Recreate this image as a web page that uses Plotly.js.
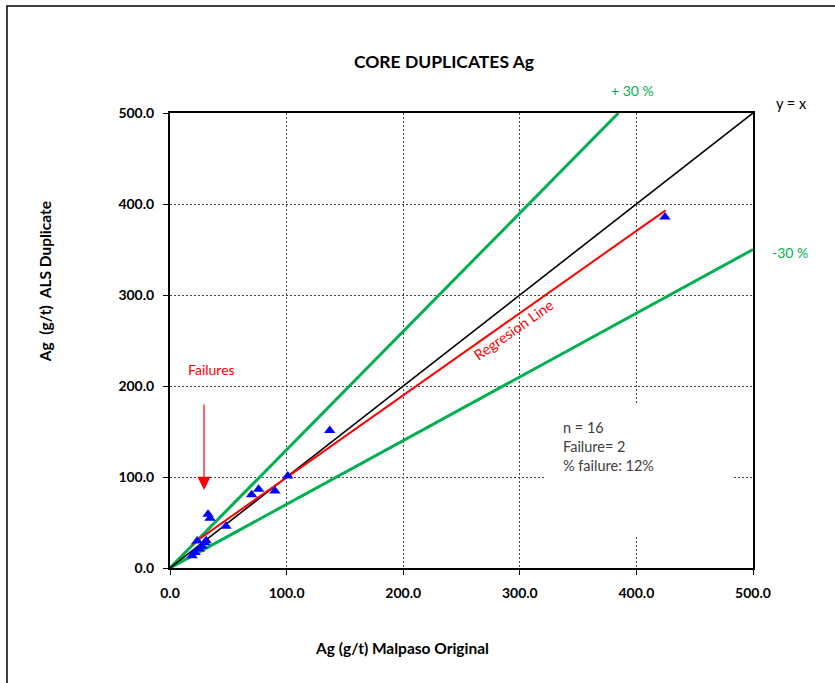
<!DOCTYPE html>
<html>
<head>
<meta charset="utf-8">
<script src="https://cdn.plot.ly/plotly-3.0.1.min.js"></script>
<style>
  html, body { margin: 0; padding: 0; background: #fff; }
  #chart { width: 835px; height: 683px; }
</style>
</head>
<body>
<div id="chart"></div>
<script>
// Ag core duplicate pairs: Malpaso original vs ALS duplicate (g/t)
const originalAg  = [137, 101, 70, 76, 90, 32.6, 34.3, 48, 23.4, 29.7, 25.2, 18.9, 424.5, 21.5, 27.5, 31];
const duplicateAg = [151, 101, 80.5, 86.5, 84.6, 59, 54.6, 46, 29.7, 27.8, 20.9, 13.5, 385.7, 17, 24, 30];

// Reference lines (end points)
const identityX = [0, 500];
const identityY = [0, 500];
const plus30X   = [0, 384.6];
const plus30Y   = [0, 500];
const minus30X  = [0, 500];
const minus30Y  = [0, 350];
const regressX  = [18.6, 425];
const regressY  = [26, 393];

// Axis ticks
const tickVals  = [0, 100, 200, 300, 400, 500];
const tickText  = ["0.0", "100.0", "200.0", "300.0", "400.0", "500.0"];

// Summary stats
const statsLines = ["n = 16", "Failure= 2", "% failure: 12%"];

const FONT = "Lato, 'Open Sans', 'DejaVu Sans', sans-serif";
const GREEN = "#00B050";

const traces = [
  { x: plus30X, y: plus30Y, mode: "lines", line: { color: GREEN, width: 3 }, hoverinfo: "skip" },
  { x: minus30X, y: minus30Y, mode: "lines", line: { color: GREEN, width: 3 }, hoverinfo: "skip" },
  { x: identityX, y: identityY, mode: "lines", line: { color: "#000000", width: 1.6 }, hoverinfo: "skip" },
  { x: regressX, y: regressY, mode: "lines", line: { color: "#FF0000", width: 2 }, hoverinfo: "skip" },
  { x: originalAg, y: duplicateAg, mode: "markers", type: "scatter",
    marker: { symbol: "triangle-up", color: "#0000FF", size: 10 } }
];

const axisCommon = {
  range: [0, 500],
  tickvals: tickVals,
  ticktext: tickText,
  tickfont: { family: FONT, size: 14, color: "#000", weight: 700 },
  showline: true,
  linecolor: "#000",
  linewidth: 2,
  mirror: true,
  ticks: "outside",
  ticklen: 5,
  tickcolor: "#000",
  tickwidth: 1,
  showgrid: true,
  gridcolor: "#444",
  gridwidth: 1,
  griddash: "2px,2px",
  zeroline: false,
  fixedrange: true
};

const layout = {
  width: 835,
  height: 683,
  margin: { l: 170, r: 82, t: 113, b: 115 },
  paper_bgcolor: "#fff",
  plot_bgcolor: "#fff",
  showlegend: false,
  title: {
    text: "<b>CORE DUPLICATES Ag</b>",
    font: { family: FONT, size: 17.5, color: "#000" },
    xref: "container", yref: "container",
    x: 444 / 835, y: 1 - 62 / 683, xanchor: "center", yanchor: "middle"
  },
  xaxis: Object.assign({}, axisCommon, { ticklabelstandoff: 6 }),
  yaxis: Object.assign({}, axisCommon, { ticklabelstandoff: 6 }),
  shapes: [
    // white panel behind the statistics text, hiding the grid there
    { type: "rect", xref: "x", yref: "y", layer: "between",
      x0: 321, x1: 483, y0: 36, y1: 179,
      fillcolor: "#fff", line: { width: 0 } },
    // outer frame
    { type: "rect", xref: "paper", yref: "paper",
      x0: -0.2796, x1: 1.2, y0: -0.35, y1: 1.2352,
      line: { color: "#000", width: 1.5 }, fillcolor: "rgba(0,0,0,0)" }
  ],
  annotations: [
    { xref: "paper", yref: "paper", x: 0.398, y: -0.176, xanchor: "center", yanchor: "middle", showarrow: false,
      text: "<b>Ag (g/t) Malpaso Original</b>", font: { family: FONT, size: 15.5, color: "#000" } },
    { xref: "paper", yref: "paper", x: -0.2144, y: 0.628, xanchor: "center", yanchor: "middle", showarrow: false, textangle: -90,
      text: "<b>Ag  (g/t)  ALS Duplicate</b>", font: { family: FONT, size: 15.5, color: "#000" } },
    { xref: "paper", yref: "paper", x: 0.7925, y: 1.0505, xanchor: "center", yanchor: "middle", showarrow: false,
      text: "+ 30 %", font: { family: FONT, size: 14, color: GREEN } },
    { xref: "paper", yref: "paper", x: 1.0652, y: 1.0198, xanchor: "center", yanchor: "middle", showarrow: false,
      text: "y = x", font: { family: FONT, size: 14.5, color: "#000" } },
    { xref: "paper", yref: "paper", x: 1.0635, y: 0.6945, xanchor: "center", yanchor: "middle", showarrow: false,
      text: "-30 %", font: { family: FONT, size: 14, color: GREEN } },
    { xref: "x", yref: "y", x: 295, y: 262, xanchor: "center", yanchor: "middle", showarrow: false, textangle: -35,
      text: "Regresion Line", font: { family: FONT, size: 14.5, color: "#FF0000" } },
    { xref: "x", yref: "y", x: 36, y: 217.6, xanchor: "center", yanchor: "middle", showarrow: false,
      text: "Failures", font: { family: FONT, size: 14, color: "#FF0000" } },
    { xref: "x", yref: "y", axref: "x", ayref: "y",
      x: 29.2, y: 85.7, ax: 29.2, ay: 181.3, text: "",
      showarrow: true, arrowhead: 2, arrowsize: 2.2, arrowwidth: 1.2, arrowcolor: "#FF0000" },
    { xref: "x", yref: "y", x: 335.3, y: 134, xanchor: "left", yanchor: "middle",
      align: "left", showarrow: false,
      text: statsLines.join("<br>"),
      font: { family: FONT, size: 14.5, color: "#404040" } }
  ]
};

Plotly.newPlot("chart", traces, layout, { staticPlot: true, displayModeBar: false });
</script>
</body>
</html>
